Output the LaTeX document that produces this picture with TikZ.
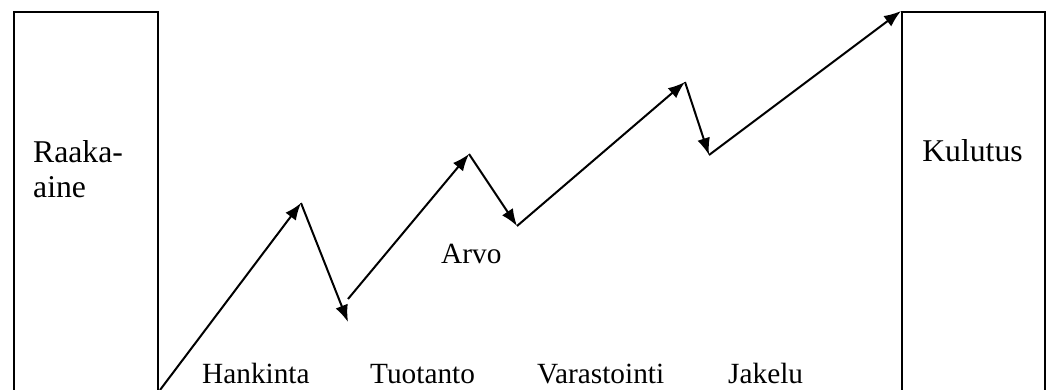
\documentclass[tikz,border=0pt]{standalone}
\usepackage{fontspec}
\setmainfont{Liberation Serif}
\usetikzlibrary{arrows.meta}

\tikzset{
    stage/.style={draw, line width=2pt, minimum width=144pt, minimum height=381pt, anchor=north west, inner sep=0pt},
    flow/.style={line width=2pt, -{Latex[length=17pt, width=13pt]}},
    label/.style={inner sep=0pt, anchor=base west, align=left},
    title/.style={label, font=\fontsize{31.7}{35}\selectfont}
}

\begin{document}
\begin{tikzpicture}[x=1pt, y=-1pt, font=\fontsize{29.3}{35}\selectfont]
        \useasboundingbox (0,0) rectangle (1046,390);
        \clip (0,0) rectangle (1046,390);

        \node[stage] (raaka) at (13,11) {};
        \node[stage, minimum width=143pt] (kulutus) at (901,11) {};

        \node[title] (raakateksti) at (33,197) {Raaka-\\aine};
        \node[title, anchor=base] (kulutusteksti) at (972.5,162) {Kulutus};
        \node[label] (arvo) at (441,263) {Arvo};

        \node[label] (hankinta) at (202,383) {Hankinta};
        \node[label] (tuotanto) at (370,383) {Tuotanto};
        \node[label] (varastointi) at (537,383) {Varastointi};
        \node[label] (jakelu) at (728,383) {Jakelu};

        \coordinate (a) at (160,390);
        \coordinate (b) at (301,203);
        \coordinate (c) at (348,322);
        \coordinate (d) at (348,299);
        \coordinate (e) at (469,154);
        \coordinate (f) at (517,226);
        \coordinate (g) at (685,82);
        \coordinate (h) at (709,155);

        \draw[flow] (a) -- (b);
        \draw[flow] (b) -- (c);
        \draw[flow] (d) -- (e);
        \draw[flow] (e) -- (f);
        \draw[flow] (f) -- (g);
        \draw[flow] (g) -- (h);
        \draw[flow] (h) -- (kulutus.north west);
\end{tikzpicture}
\end{document}
